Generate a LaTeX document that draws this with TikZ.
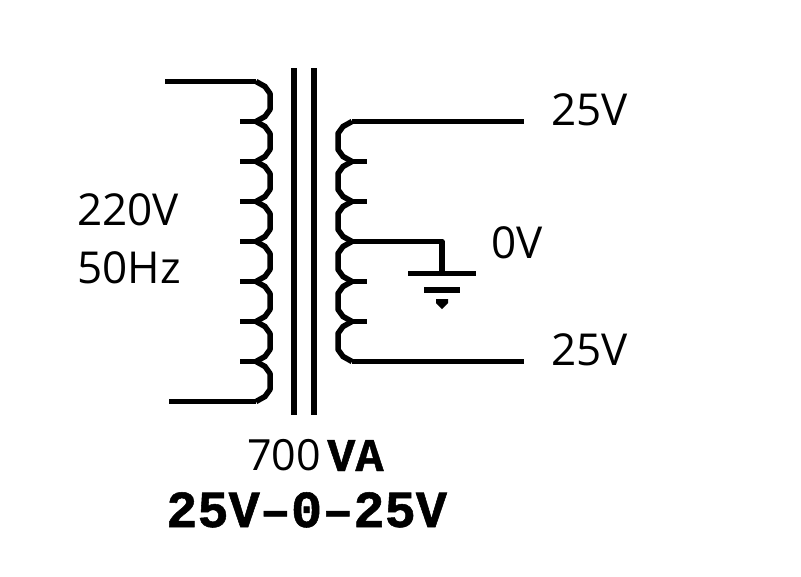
\documentclass[tikz,border=0pt]{standalone}
\usepackage{fontspec}
\setmainfont{Open Sans}
\newfontfamily\stampfont[FakeBold=1]{Liberation Mono}
\tikzset{
	wire/.style={line width=5.5pt,line join=round},
	core/.style={line width=6pt},
	volt/.style={inner sep=0pt,anchor=base west,font=\fontsize{44}{44}\selectfont},
	stamp/.style={inner sep=0pt,anchor=base west,font=\stampfont\bfseries\fontsize{52}{52}\selectfont},
}
\begin{document}
\begin{tikzpicture}[x=1pt,y=-1pt]
	\useasboundingbox (0,0) rectangle (801,576);
	% core
	\draw [core] (294,68) -- (294,415);
	\draw [core] (314,68) -- (314,415);
	% primary
	\coordinate (pritop) at (165,81.5);
	\coordinate (pribot) at (169,401.5);
	\draw [wire] (pritop) -- (256,81.5);
	\draw [wire] (pribot) -- (256,401.5);
	\foreach \y in {81.5,121.5,...,361.5} {
		\draw [wire] (256,\y) -- (265,\y+5) -- (270,\y+12) -- (270,\y+28) -- (265,\y+35) -- (256,\y+40);
	}
	\foreach \y in {121.5,161.5,...,361.5} {
		\draw [wire] (240,\y) -- (258,\y);
	}
	% secondary
	\coordinate (sectop) at (524,121.5);
	\coordinate (secbot) at (524,361.5);
	\draw [wire] (352,121.5) -- (sectop);
	\draw [wire] (352,361.5) -- (secbot);
	\foreach \y in {121.5,161.5,...,321.5} {
		\draw [wire] (352,\y) -- (343,\y+5) -- (338,\y+12) -- (338,\y+28) -- (343,\y+35) -- (352,\y+40);
	}
	\foreach \y in {161.5,201.5,281.5,321.5} {
		\draw [wire] (350,\y) -- (367,\y);
	}
	% ground
	\coordinate (gnd) at (442,273);
	\draw [wire] (350,241.5) -- (442,241.5) -- (gnd);
	\draw [wire] (408,273.5) -- (476,273.5);
	\draw [wire] (424,290) -- (460,290);
	\fill (436,299) -- (448,299) -- (448,303) -- (442,309) -- (436,303) -- cycle;
	% labels
	\node [volt] (inv) at (77,225) {220V};
	\node [volt] (infreq) at (77,283) {50Hz};
	\node [volt] (uplbl) at (551,125) {25V};
	\node [volt] (gndlbl) at (491,258) {0V};
	\node [volt] (lowlbl) at (551,365) {25V};
	\node [volt,font=\fontsize{43}{43}\selectfont] (power) at (247,470) {700};
	\node [stamp,font=\stampfont\bfseries\fontsize{47}{47}\selectfont] (powerva) at (327,471) {VA};
	\node [stamp] (rating) at (166,527) {25V–0–25V};
\end{tikzpicture}
\end{document}
